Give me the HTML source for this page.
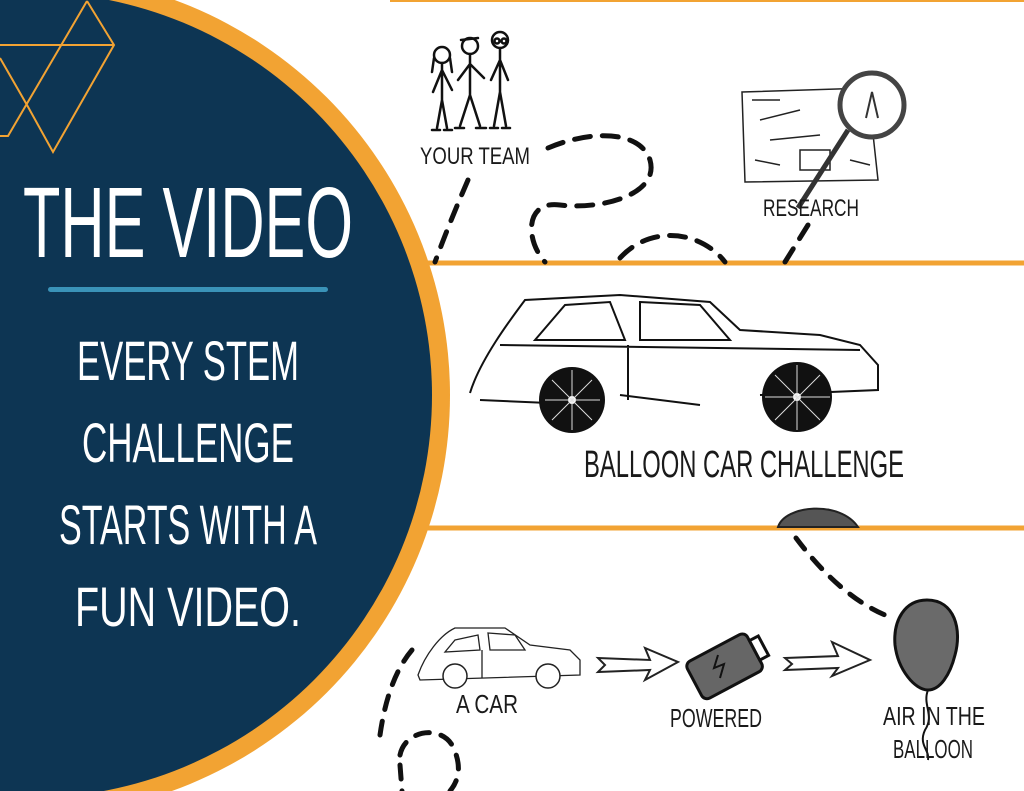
<!DOCTYPE html>
<html><head><meta charset="utf-8"><style>
html,body{margin:0;padding:0;background:#fff;}
#c{position:relative;width:1024px;height:791px;overflow:hidden;background:#fff;}
.t{font-family:"Liberation Sans Narrow","Liberation Sans",sans-serif;fill:#1a1a1a;}
.w{font-family:"Liberation Sans Narrow","Liberation Sans",sans-serif;fill:#fff;text-anchor:middle;}
</style></head><body><div id="c">
<svg width="1024" height="791" viewBox="0 0 1024 791" xmlns="http://www.w3.org/2000/svg">
<!-- panel lines -->
<line x1="390" y1="1" x2="1024" y2="1" stroke="#f2a333" stroke-width="2"/>
<line x1="420" y1="263" x2="1024" y2="263" stroke="#f2a333" stroke-width="5"/>
<line x1="420" y1="528" x2="1024" y2="528" stroke="#f2a333" stroke-width="5"/>

<!-- panel 1: team -->
<g stroke="#111" stroke-width="2.5" fill="none" stroke-linecap="round">
 <circle cx="442" cy="55" r="8"/><path d="M434 58 L432 72 M450 58 L452 72"/>
 <path d="M442 63 L442 100 M442 70 L433 92 M442 70 L452 90 M442 100 L437 128 M442 100 L447 128 M432 130 L440 130 M444 130 L452 130"/>
 <circle cx="470" cy="46" r="8"/><path d="M461 40 L478 38"/>
 <path d="M470 54 L470 95 M470 64 L458 80 M470 64 L484 78 M470 95 L460 126 M470 95 L480 126 M455 128 L464 128 M476 128 L486 128"/>
 <circle cx="500" cy="40" r="8"/><circle cx="497" cy="41" r="2.5"/><circle cx="504" cy="41" r="2.5"/>
 <path d="M500 48 L500 92 M500 60 L491 80 M500 60 L508 80 M500 92 L494 126 M500 92 L506 126 M490 128 L498 128 M502 128 L510 128"/>
</g>
<text class="t" x="420" y="164" font-size="24" textLength="110" lengthAdjust="spacingAndGlyphs">YOUR TEAM</text>
<g stroke="#111" stroke-width="5" fill="none" stroke-dasharray="16 12" stroke-linecap="round">
 <path d="M548 148 C590 130 640 130 650 160 C660 195 600 210 560 205 C525 200 525 240 545 262"/>
 <path d="M468 180 C455 210 445 235 435 262"/>
 <path d="M620 258 C650 225 700 230 725 262"/>
 <path d="M808 225 L785 262"/>
</g>
<!-- research -->
<g stroke="#222" stroke-width="1.5" fill="none">
 <path d="M742 92 L868 88 L878 180 L745 182 Z"/>
 <path d="M752 100 L780 100 M760 120 L800 110 M770 140 L820 135 M800 150 L830 150 L830 170 L800 170 Z M755 160 L780 165 M850 160 L870 165"/>
</g>
<g stroke="#333" stroke-width="5" fill="none"><line x1="848" y1="130" x2="798" y2="208"/></g>
<circle cx="872" cy="105" r="32" fill="#fff" stroke="#444" stroke-width="5"/>
<path d="M866 118 L872 92 L878 118" stroke="#333" stroke-width="2" fill="none"/>
<text class="t" x="763" y="216" font-size="24" textLength="96" lengthAdjust="spacingAndGlyphs">RESEARCH</text>

<!-- panel 2 big car -->
<g stroke="#111" stroke-width="2" fill="none">
 <path d="M470 393 C480 360 510 320 525 300 L620 295 L710 302 L740 330 L820 335 L860 345 L878 365 L878 390 L760 395 M620 395 L700 405 M595 405 L480 400 Z"/>
 <path d="M535 340 L565 305 L610 302 L625 340 Z M640 302 L700 305 L730 340 L640 340 Z M628 345 L628 400 M500 345 L860 350"/>
</g>
<circle cx="572" cy="400" r="33" fill="#111"/><circle cx="797" cy="397" r="35" fill="#111"/>
<circle cx="572" cy="400" r="4" fill="#fff"/><circle cx="797" cy="397" r="4" fill="#fff"/>
<g stroke="#ddd" stroke-width="1"><path d="M572 370 L572 430 M545 400 L600 400 M552 380 L592 420 M592 380 L552 420 M797 365 L797 430 M765 397 L830 397 M775 375 L820 420 M820 375 L775 420"/></g>
<text class="t" x="584" y="477" font-size="38" textLength="320" lengthAdjust="spacingAndGlyphs">BALLOON CAR CHALLENGE</text>
<path d="M778 527 C785 505 840 500 858 527 Z" fill="#555" stroke="#222" stroke-width="2"/>

<!-- panel 3 -->
<g stroke="#111" stroke-width="5" fill="none" stroke-dasharray="14 12" stroke-linecap="round">
 <path d="M796 538 C820 570 850 600 885 615"/>
 <path d="M412 650 C395 670 385 700 380 735"/>
 <path d="M400 755 C405 730 440 725 452 745 C465 770 455 785 450 791"/>
 <path d="M400 765 L402 791"/>
</g>
<g stroke="#222" stroke-width="1.3" fill="none">
 <path d="M418 675 C425 655 440 635 455 628 L505 628 L530 645 L570 650 L580 660 L580 675 L420 680 Z M455 640 L478 635 L480 650 L445 652 Z M488 633 L515 635 L525 650 L490 650 Z M482 650 L482 678"/>
</g>
<circle cx="455" cy="676" r="12" fill="#fff" stroke="#222" stroke-width="1.5"/><circle cx="548" cy="676" r="12" fill="#fff" stroke="#222" stroke-width="1.5"/>
<text class="t" x="456" y="713" font-size="26" textLength="62" lengthAdjust="spacingAndGlyphs">A CAR</text>
<g stroke="#222" stroke-width="2" fill="#fff">
 <path d="M598 658 L650 660 L645 648 L678 662 L645 680 L650 670 L598 672 L605 665 Z"/>
 <path d="M785 658 L838 656 L832 642 L870 660 L832 676 L838 668 L785 670 L792 664 Z"/>
</g>
<g transform="rotate(-28 725 665)">
 <rect x="690" y="645" width="68" height="42" rx="6" fill="#666" stroke="#111" stroke-width="3"/>
 <rect x="758" y="655" width="10" height="22" fill="#fff" stroke="#111" stroke-width="3"/>
</g>
<path d="M718 655 L714 668 L724 664 L720 678" stroke="#111" stroke-width="2" fill="none"/>
<text class="t" x="670" y="727" font-size="26" textLength="92" lengthAdjust="spacingAndGlyphs">POWERED</text>
<path d="M927 600 C955 600 962 630 955 655 C950 675 940 690 928 690 C915 690 898 670 895 645 C893 620 905 600 927 600 Z" fill="#6a6a6a" stroke="#111" stroke-width="3"/>
<path d="M928 690 C922 705 935 715 925 730 C918 745 930 750 928 760" stroke="#111" stroke-width="2" fill="none"/>
<text class="t" x="883" y="725" font-size="26" textLength="102" lengthAdjust="spacingAndGlyphs">AIR IN THE</text>
<text class="t" x="893" y="758" font-size="26" textLength="80" lengthAdjust="spacingAndGlyphs">BALLOON</text>

<!-- big circle -->
<circle cx="29" cy="395" r="421" fill="#f2a333"/>
<circle cx="29" cy="395" r="403" fill="#0d3553"/>
<g stroke="#f2a333" stroke-width="2" fill="none">
 <path d="M87 1 L114 45 L53 152 L27 105 L0 58 M0 45 L114 45 M87 1 L8 136 L0 136"/>
</g>
<text class="w" x="188" y="257" font-size="100" textLength="330" lengthAdjust="spacingAndGlyphs">THE VIDEO</text>
<rect x="48" y="287" width="280" height="5" rx="2.5" fill="#3a93b8"/>
<text class="w" x="188" y="380" font-size="56" textLength="222" lengthAdjust="spacingAndGlyphs">EVERY STEM</text>
<text class="w" x="188" y="462" font-size="56" textLength="212" lengthAdjust="spacingAndGlyphs">CHALLENGE</text>
<text class="w" x="188" y="544" font-size="56" textLength="258" lengthAdjust="spacingAndGlyphs">STARTS WITH A</text>
<text class="w" x="188" y="626" font-size="56" textLength="226" lengthAdjust="spacingAndGlyphs">FUN VIDEO.</text>
</svg>
</div></body></html>
